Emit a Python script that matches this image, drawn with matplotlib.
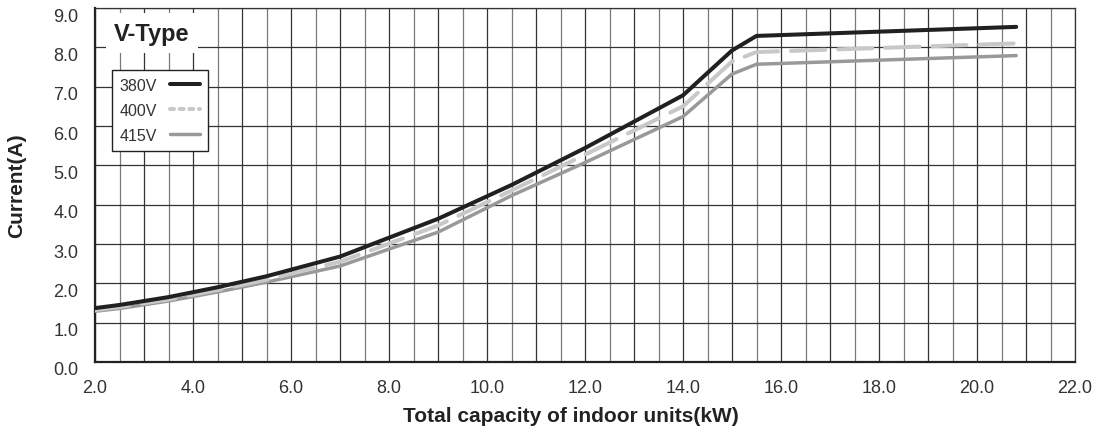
import matplotlib
matplotlib.use("Agg")
import matplotlib.pyplot as plt
import matplotlib.transforms as mtrans
from matplotlib.lines import Line2D
from matplotlib.ticker import MultipleLocator, FuncFormatter

plt.rcParams['font.family'] = ['Liberation Sans', 'DejaVu Sans']

# capacity of indoor units (kW) and current (A) per supply voltage
capacity = [2.0, 2.5, 3.5, 4.5, 5.5, 7.0, 9.0, 10.5, 12.0, 14.0, 15.0, 15.5, 20.8]
amps_380 = [1.37, 1.45, 1.65, 1.90, 2.18, 2.68, 3.64, 4.50, 5.44, 6.78, 7.92, 8.29, 8.52]
amps_400 = [1.32, 1.40, 1.59, 1.83, 2.09, 2.55, 3.47, 4.36, 5.27, 6.50, 7.64, 7.88, 8.10]
amps_415 = [1.29, 1.36, 1.55, 1.78, 2.03, 2.44, 3.30, 4.23, 5.07, 6.24, 7.32, 7.57, 7.79]

labels = ['380V', '400V', '415V']
title = 'V-Type'

c380 = '#231f20'
c400 = '#c8c8c8'
c415 = '#999999'
grid_dark = '#333333'
grid_light = '#7a7a7a'

fig = plt.figure(figsize=(11.02, 4.35), dpi=100)
ax = fig.add_axes([95 / 1102, 1 - 363 / 435, 980 / 1102, 354 / 435])

ax.set_xlim(2.0, 22.0)
ax.set_ylim(0.0, 9.0)

ax.xaxis.set_major_locator(MultipleLocator(1.0))
ax.xaxis.set_minor_locator(MultipleLocator(0.5))
ax.yaxis.set_major_locator(MultipleLocator(1.0))
ax.xaxis.set_major_formatter(FuncFormatter(lambda v, p: '%.1f' % v if round(v) % 2 == 0 else ''))
ax.yaxis.set_major_formatter(FuncFormatter(lambda v, p: '%.1f' % v))

ax.grid(which='major', axis='both', color=grid_dark, lw=0.9)
ax.grid(which='minor', axis='x', color=grid_light, lw=0.9)
ax.set_axisbelow(True)

ax.tick_params(which='both', length=0)
ax.tick_params(axis='x', pad=12, labelsize=13, labelcolor='#333333')
ax.tick_params(axis='y', pad=12, labelsize=13, labelcolor='#333333')
# y tick labels sit a bit below their gridlines in the original
off = mtrans.ScaledTranslation(0, -6 / 100, fig.dpi_scale_trans)
for lab in ax.get_yticklabels():
    lab.set_transform(lab.get_transform() + off)

for s in ['top', 'right']:
    ax.spines[s].set_color(grid_dark)
    ax.spines[s].set_linewidth(0.9)
for s in ['left', 'bottom']:
    ax.spines[s].set_color('#222222')
    ax.spines[s].set_linewidth(1.6)

ax.plot(capacity, amps_380, color=c380, lw=2.9, solid_capstyle='round', solid_joinstyle='round', zorder=5)
ax.plot(capacity, amps_400, color=c400, lw=2.9, dashes=(8.5, 3.2), dash_capstyle='round', zorder=4)
ax.plot(capacity, amps_415, color=c415, lw=2.5, solid_capstyle='round', solid_joinstyle='round', zorder=3)

handles = [
    Line2D([], [], color=c380, lw=2.9, solid_capstyle='round'),
    Line2D([], [], color=c400, lw=2.9, dashes=(1.0, 1.4), dash_capstyle='round'),
    Line2D([], [], color=c415, lw=2.5, solid_capstyle='round'),
]
leg = ax.legend(handles, labels, loc='upper left', bbox_to_anchor=(0.0173, 0.825),
                borderaxespad=0, markerfirst=False, fontsize=11.5, frameon=True,
                fancybox=False, edgecolor='#222222', framealpha=1,
                handlelength=1.9, handletextpad=0.8, labelspacing=0.62, borderpad=0.5)
leg.get_frame().set_linewidth(1.0)
for t in leg.get_texts():
    t.set_color('#333333')

ax.text(0.058, 0.929, title, transform=ax.transAxes, ha='center', va='center',
        fontsize=17, fontweight='bold', color='#222222', zorder=6,
        bbox=dict(facecolor='white', edgecolor='none', pad=6))

fig.text(571 / 1102, 1 - 417 / 435, 'Total capacity of indoor units(kW)', ha='center', va='center',
         fontsize=15, fontweight='bold', color='#222222')
fig.text(17 / 1102, 1 - 186 / 435, 'Current(A)', ha='center', va='center', rotation=90,
         fontsize=15, fontweight='bold', color='#222222')

fig.savefig('out.png', dpi=100)
